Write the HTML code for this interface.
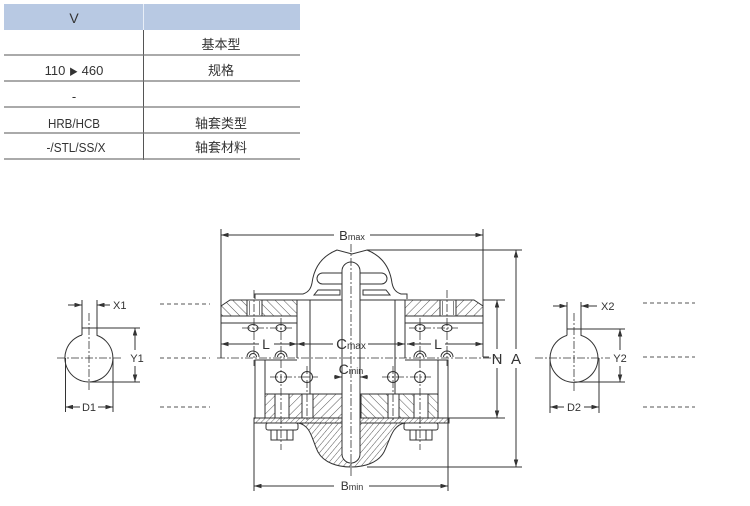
<!DOCTYPE html>
<html><head><meta charset="utf-8"><style>
html,body{margin:0;padding:0;background:#fff;}
svg{display:block;}
text{font-family:"Liberation Sans","Noto Sans CJK SC",sans-serif;fill:#333;}
</style></head><body>
<svg width="750" height="506" viewBox="0 0 750 506" xmlns="http://www.w3.org/2000/svg">
<defs>
<marker id="ar" viewBox="0 0 10 6" refX="10" refY="3" markerWidth="8" markerHeight="4.5" orient="auto-start-reverse" markerUnits="userSpaceOnUse"><path d="M0,0 L10,3 L0,6 z" fill="#333"/></marker>
<pattern id="hb" width="6" height="6" patternUnits="userSpaceOnUse" patternTransform="rotate(-45)"><rect width="6" height="6" fill="#fff"/><line x1="0" y1="0" x2="0" y2="6" stroke="#444" stroke-width="0.9"/></pattern>
<pattern id="hf" width="6" height="6" patternUnits="userSpaceOnUse" patternTransform="rotate(45)"><rect width="6" height="6" fill="#fff"/><line x1="0" y1="0" x2="0" y2="6" stroke="#444" stroke-width="0.9"/></pattern>
<pattern id="hs" width="3.5" height="3.5" patternUnits="userSpaceOnUse" patternTransform="rotate(45)"><rect width="4" height="4" fill="#fff"/><line x1="0" y1="0" x2="0" y2="4" stroke="#444" stroke-width="0.8"/></pattern>
<pattern id="hx" width="4.5" height="4.5" patternUnits="userSpaceOnUse" patternTransform="rotate(40)"><rect width="5" height="5" fill="#fff"/><line x1="0" y1="0" x2="0" y2="5" stroke="#444" stroke-width="0.9"/></pattern>
</defs>

<!-- TABLE -->
<rect x="4" y="4" width="296" height="26" fill="#b8c9e3"/>
<line x1="143.5" y1="4" x2="143.5" y2="30" stroke="#e8eef7" stroke-width="1"/>
<line x1="143.5" y1="30" x2="143.5" y2="160" stroke="#555" stroke-width="1"/>
<g stroke="#777" stroke-width="1.3">
<line x1="4" y1="55" x2="300" y2="55"/>
<line x1="4" y1="81" x2="300" y2="81"/>
<line x1="4" y1="107" x2="300" y2="107"/>
<line x1="4" y1="133" x2="300" y2="133"/>
<line x1="4" y1="159" x2="300" y2="159"/>
</g>
<g font-size="13" text-anchor="middle">
<text x="74" y="23" font-size="14">V</text>
<text x="221" y="49">基本型</text>
<text x="74" y="75">110 <tspan font-size="9">▶</tspan> 460</text>
<text x="221" y="75">规格</text>
<text x="74" y="101">-</text>
<text x="74" y="128" textLength="52" lengthAdjust="spacingAndGlyphs">HRB/HCB</text>
<text x="221" y="128">轴套类型</text>
<text x="76" y="152" textLength="59" lengthAdjust="spacingAndGlyphs">-/STL/SS/X</text>
<text x="221" y="152">轴套材料</text>
</g>

<!-- dashed lines -->
<g stroke="#555" stroke-width="0.9" stroke-dasharray="4 3">
<line x1="160" y1="304" x2="210" y2="304"/>
<line x1="160" y1="358" x2="210" y2="358"/>
<line x1="160" y1="407" x2="210" y2="407"/>
<line x1="643" y1="303" x2="695" y2="303"/>
<line x1="643" y1="357" x2="695" y2="357"/>
<line x1="643" y1="407" x2="695" y2="407"/>
</g>

<g stroke="#333" stroke-width="1" fill="none">
<!-- LEFT SHAFT D1 -->
<path d="M82,335 L82,328 L97,328 L97,335.4 A24 24 0 1 1 82,335"/>
<g stroke-dasharray="8 2 2 2" stroke-width="0.8">
<line x1="57" y1="358" x2="122" y2="358"/>
<line x1="89" y1="313" x2="89" y2="390"/>
</g>
<line x1="82" y1="300" x2="82" y2="328"/>
<line x1="97" y1="300" x2="97" y2="328"/>
<line x1="68" y1="305" x2="82" y2="305" marker-end="url(#ar)"/>
<line x1="110" y1="305" x2="97" y2="305" marker-end="url(#ar)"/>
<line x1="97" y1="328" x2="140" y2="328"/>
<line x1="89" y1="382" x2="140" y2="382"/>
<line x1="135" y1="350" x2="135" y2="328" marker-end="url(#ar)"/>
<line x1="135" y1="366" x2="135" y2="382" marker-end="url(#ar)"/>
<line x1="65.5" y1="358" x2="65.5" y2="412"/>
<line x1="113" y1="358" x2="113" y2="412"/>
<line x1="80" y1="407" x2="65.5" y2="407" marker-end="url(#ar)"/>
<line x1="98" y1="407" x2="113" y2="407" marker-end="url(#ar)"/>

<!-- RIGHT SHAFT D2 -->
<path d="M567,335.4 L567,329 L581,329 L581,335.4 A24 24 0 1 1 567,335.4"/>
<g stroke-dasharray="8 2 2 2" stroke-width="0.8">
<line x1="535" y1="358" x2="610" y2="358"/>
<line x1="574" y1="313" x2="574" y2="392"/>
</g>
<line x1="567" y1="302" x2="567" y2="329"/>
<line x1="581" y1="302" x2="581" y2="329"/>
<line x1="553" y1="306" x2="567" y2="306" marker-end="url(#ar)"/>
<line x1="597" y1="306" x2="581" y2="306" marker-end="url(#ar)"/>
<line x1="581" y1="329" x2="625" y2="329"/>
<line x1="574" y1="382" x2="625" y2="382"/>
<line x1="620" y1="350" x2="620" y2="329" marker-end="url(#ar)"/>
<line x1="620" y1="366" x2="620" y2="382" marker-end="url(#ar)"/>
<line x1="550" y1="358" x2="550" y2="413"/>
<line x1="599" y1="358" x2="599" y2="413"/>
<line x1="564" y1="407" x2="550" y2="407" marker-end="url(#ar)"/>
<line x1="584" y1="407" x2="599" y2="407" marker-end="url(#ar)"/>
</g>
<g font-size="11">
<text x="113" y="309">X1</text>
<text x="137" y="362" text-anchor="middle">Y1</text>
<text x="89" y="411" text-anchor="middle">D1</text>
<text x="601" y="310">X2</text>
<text x="620" y="362" text-anchor="middle">Y2</text>
<text x="574" y="411" text-anchor="middle">D2</text>
</g>

<!-- MAIN COUPLING -->
<g stroke="#333" stroke-width="1" fill="none">
<line x1="221" y1="229" x2="221" y2="358"/>
<line x1="483" y1="229" x2="483" y2="357"/>
<line x1="483" y1="357" x2="489" y2="357"/>
<line x1="334" y1="235" x2="221" y2="235" marker-end="url(#ar)"/>
<line x1="370" y1="235" x2="483" y2="235" marker-end="url(#ar)"/>

<path d="M221,306 L230,300 L297,300 L297,316 L221,316 Z" fill="url(#hb)"/>
<path d="M405,300 L474,300 L483,306 L483,316 L405,316 Z" fill="url(#hf)"/>
<rect x="247" y="300" width="15" height="16" fill="#fff"/>
<line x1="249.5" y1="301" x2="249.5" y2="315" stroke-width="0.6"/>
<line x1="259.5" y1="301" x2="259.5" y2="315" stroke-width="0.6"/>
<rect x="440" y="300" width="16" height="16" fill="#fff"/>
<line x1="442.5" y1="301" x2="442.5" y2="315" stroke-width="0.6"/>
<line x1="453.5" y1="301" x2="453.5" y2="315" stroke-width="0.6"/>
<line x1="221" y1="323" x2="297" y2="323"/>
<line x1="405" y1="323" x2="483" y2="323"/>
<line x1="297" y1="300" x2="297" y2="358"/>
<line x1="405" y1="300" x2="405" y2="358"/>
<line x1="310" y1="300" x2="310" y2="395"/>
<line x1="395" y1="300" x2="395" y2="395"/>
<line x1="297" y1="300" x2="405" y2="300"/>
<ellipse cx="253" cy="328" rx="5" ry="3.5"/>
<ellipse cx="281" cy="328" rx="5" ry="3.5"/>
<ellipse cx="420" cy="328" rx="5" ry="3.5"/>
<ellipse cx="447" cy="328" rx="5" ry="3.5"/>
<path d="M247,357 A6 6 0 0 1 259,357 M249.5,357 A3.5 3.5 0 0 1 256.5,357"/>
<path d="M275,357 A6 6 0 0 1 287,357 M277.5,357 A3.5 3.5 0 0 1 284.5,357"/>
<path d="M414,357 A6 6 0 0 1 426,357 M416.5,357 A3.5 3.5 0 0 1 423.5,357"/>
<path d="M441,357 A6 6 0 0 1 453,357 M443.5,357 A3.5 3.5 0 0 1 450.5,357"/>

<path d="M255,299 L255,294 L303,294 C309,292 311,288 312,283 C314,268 322,256 337,250 L352,254 L367,250 C382,256 390,268 392,283 C393,288 395,292 401,294 L407,294 L407,299" fill="#fff"/>
<rect x="317" y="273" width="70" height="11" rx="5.5"/>
<path d="M318,290 L340,290 L340,295 L314,295 Z"/>
<path d="M363,290 L386,290 L390,295 L363,295 Z"/>
<line x1="367" y1="250" x2="522" y2="250"/>

<rect x="255" y="360" width="10" height="58" fill="#fff"/>
<rect x="438" y="360" width="10" height="58" fill="#fff"/>
<line x1="265" y1="360" x2="297" y2="360"/>
<line x1="405" y1="360" x2="438" y2="360"/>
<rect x="265" y="394" width="77" height="24" fill="url(#hf)"/>
<rect x="361" y="394" width="77" height="24" fill="url(#hb)"/>
<rect x="275" y="394" width="14" height="24" fill="#fff"/>
<rect x="302" y="394" width="11" height="24" fill="#fff"/>
<rect x="388" y="394" width="11" height="24" fill="#fff"/>
<rect x="414" y="394" width="14" height="24" fill="#fff"/>
<circle cx="281" cy="377" r="5.5"/>
<circle cx="307" cy="377" r="5.5"/>
<circle cx="393" cy="377" r="5.5"/>
<circle cx="420" cy="377" r="5.5"/>

<rect x="254" y="418" width="195" height="5" fill="url(#hs)"/>
<path d="M298,423 C311,425 312,440 318,452 C324,463 338,467 351,467 C364,467 378,463 384,452 C390,440 392,425 405,423 Z" fill="url(#hx)"/>
<line x1="367" y1="467" x2="522" y2="467"/>

<rect x="266" y="423" width="32" height="7" rx="2" fill="#fff"/>
<rect x="271" y="430" width="22" height="10" fill="#fff"/>
<line x1="277" y1="430" x2="277" y2="440"/><line x1="287" y1="430" x2="287" y2="440"/>
<rect x="404" y="423" width="34" height="7" rx="2" fill="#fff"/>
<rect x="410" y="430" width="22" height="10" fill="#fff"/>
<line x1="416" y1="430" x2="416" y2="440"/><line x1="426" y1="430" x2="426" y2="440"/>

<rect x="342" y="262" width="18" height="201" rx="9" fill="#fff"/>

<g stroke-dasharray="8 2 2 2" stroke-width="0.8">
<line x1="217" y1="358" x2="500" y2="358"/>
<line x1="351" y1="244" x2="351" y2="476"/>
<line x1="254" y1="290" x2="254" y2="366"/>
<line x1="281" y1="318" x2="281" y2="450"/>
<line x1="447" y1="290" x2="447" y2="366"/>
<line x1="420" y1="318" x2="420" y2="450"/>
<line x1="307" y1="366" x2="307" y2="420"/>
<line x1="393" y1="366" x2="393" y2="420"/>
<line x1="242" y1="328" x2="292" y2="328"/>
<line x1="409" y1="328" x2="458" y2="328"/>
<line x1="270" y1="377" x2="318" y2="377"/>
<line x1="382" y1="377" x2="431" y2="377"/>
</g>

<line x1="259" y1="344" x2="221" y2="344" marker-end="url(#ar)"/>
<line x1="274" y1="344" x2="297" y2="344" marker-end="url(#ar)"/>
<line x1="333" y1="344" x2="297" y2="344" marker-end="url(#ar)"/>
<line x1="368" y1="344" x2="405" y2="344" marker-end="url(#ar)"/>
<line x1="431" y1="344" x2="407" y2="344" marker-end="url(#ar)"/>
<line x1="445" y1="344" x2="483" y2="344" marker-end="url(#ar)"/>
<line x1="334" y1="377" x2="342" y2="377" marker-end="url(#ar)"/>
<line x1="368" y1="377" x2="360" y2="377" marker-end="url(#ar)"/>

<line x1="254" y1="423" x2="254" y2="491"/>
<line x1="448" y1="418" x2="448" y2="491"/>
<line x1="334" y1="486" x2="254" y2="486" marker-end="url(#ar)"/>
<line x1="369" y1="486" x2="448" y2="486" marker-end="url(#ar)"/>

<line x1="483" y1="300" x2="505" y2="300"/>
<line x1="449" y1="418" x2="505" y2="418"/>
<line x1="497" y1="349" x2="497" y2="300" marker-end="url(#ar)"/>
<line x1="497" y1="368" x2="497" y2="418" marker-end="url(#ar)"/>
<line x1="516" y1="349" x2="516" y2="250" marker-end="url(#ar)"/>
<line x1="516" y1="368" x2="516" y2="467" marker-end="url(#ar)"/>
</g>

<g>
<text x="352" y="240" text-anchor="middle"><tspan font-size="13">B</tspan><tspan font-size="9">max</tspan></text>
<text x="351" y="349" text-anchor="middle"><tspan font-size="15">C</tspan><tspan font-size="10">max</tspan></text>
<text x="351" y="374" text-anchor="middle"><tspan font-size="14">C</tspan><tspan font-size="9">min</tspan></text>
<text x="352" y="490" text-anchor="middle"><tspan font-size="12">B</tspan><tspan font-size="9">min</tspan></text>
<text x="266" y="349" font-size="14" text-anchor="middle">L</text>
<text x="438" y="349" font-size="14" text-anchor="middle">L</text>
<text x="497" y="364" font-size="15" text-anchor="middle">N</text>
<text x="516" y="364" font-size="15" text-anchor="middle">A</text>
</g>
</svg>
</body></html>
